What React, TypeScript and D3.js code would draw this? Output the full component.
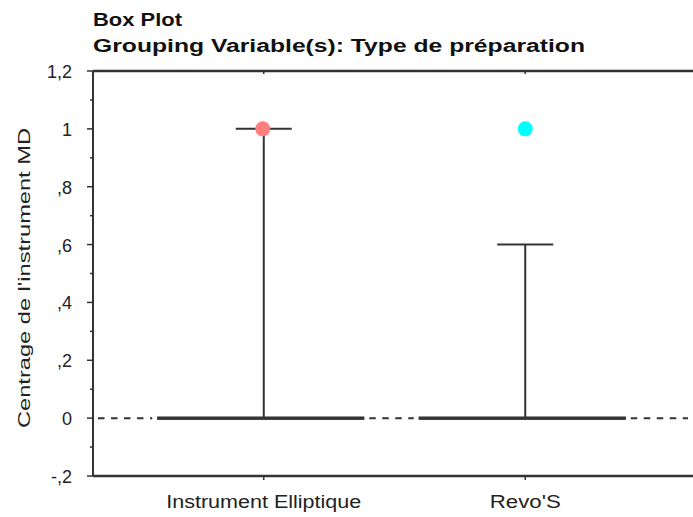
import React from "react";
import * as d3 from "d3";

const groups = ["Instrument Elliptique", "Revo'S"];
const q1Values = [0, 0];
const medianValues = [0, 0];
const q3Values = [0, 0];
const whiskerLow = [0, 0];
const whiskerHigh = [1, 0.6];
const outlierValues = [1, 1];
const outlierColors = ["#ff7f7f", "#00ffff"];
const yTickValues = [-0.2, 0, 0.2, 0.4, 0.6, 0.8, 1, 1.2];
const yTickLabels = ["-,2", "0", ",2", ",4", ",6", ",8", "1", "1,2"];
const yMinorTicks = [-0.1, 0.1, 0.3, 0.5, 0.7, 0.9, 1.1];
const groupLabelWidths = [195, 71];

const W = 693;
const H = 517;
const left = 93;
const top = 71;
const bottom = 476;
const right = 696;
const line = "#333";
const font = "'Liberation Sans', Arial, sans-serif";

export default function App() {
  const y = d3.scaleLinear().domain([-0.2, 1.2]).range([bottom, top]);
  const x = d3.scalePoint<string>().domain(groups).range([left, right]).padding(0.653);
  const boxW = 207;
  const boxShift = -3;
  const capW = 56;
  const y0 = y(0);

  const solids = groups.map((g) => [x(g)! + boxShift - boxW / 2, x(g)! + boxShift + boxW / 2]);
  const gaps: [number, number][] = [];
  let cur = left;
  solids.forEach(([a, b]) => {
    gaps.push([cur, a]);
    cur = b;
  });
  gaps.push([cur, W]);

  return (
    <svg width={W} height={H} style={{ position: "absolute", left: 0, top: 0, background: "#fff" }}>
      <rect x={0} y={0} width={W} height={H} fill="#fff" />
      <text x={93} y={26} fontFamily={font} fontWeight="bold" fontSize={18} fill="#111"
        textLength={89} lengthAdjust="spacingAndGlyphs">
        Box Plot
      </text>
      <text x={93} y={52} fontFamily={font} fontWeight="bold" fontSize={18} fill="#111"
        textLength={492} lengthAdjust="spacingAndGlyphs">
        Grouping Variable(s): Type de préparation
      </text>

      {/* frame */}
      <line x1={left} x2={W} y1={top} y2={top} stroke={line} strokeWidth={2.5} />
      <line x1={left} x2={W} y1={bottom} y2={bottom} stroke={line} strokeWidth={2.5} />
      <line x1={left} x2={left} y1={top} y2={bottom} stroke={line} strokeWidth={2} />

      {/* y ticks */}
      {yTickValues.map((v, i) => (
        <g key={"yt" + i}>
          <line x1={left - 6} x2={left} y1={y(v)} y2={y(v)} stroke={line} strokeWidth={1.5} />
          <text x={72} y={y(v) + 7} textAnchor="end" fontFamily={font} fontSize={18} fill="#222">
            {yTickLabels[i]}
          </text>
        </g>
      ))}
      {yMinorTicks.map((v, i) => (
        <line key={"ym" + i} x1={left - 3} x2={left} y1={y(v)} y2={y(v)} stroke={line} strokeWidth={1.5} />
      ))}

      {/* x ticks */}
      {groups.map((g, i) => (
        <g key={"xt" + g}>
          <line x1={x(g)} x2={x(g)} y1={bottom} y2={bottom + 4} stroke={line} strokeWidth={1.5} />
          <line x1={x(g)} x2={x(g)} y1={top} y2={top + 3} stroke={line} strokeWidth={1.5} />
          <text x={x(g)! - groupLabelWidths[i] / 2} y={508} fontFamily={font} fontSize={18} fill="#222"
            textLength={groupLabelWidths[i]} lengthAdjust="spacingAndGlyphs">
            {g}
          </text>
        </g>
      ))}

      {/* y axis title */}
      <text
        transform={`translate(30,428) rotate(-90)`}
        fontFamily={font}
        fontSize={17}
        fill="#222"
        textLength={300}
        lengthAdjust="spacingAndGlyphs"
      >
        Centrage de l'instrument MD
      </text>

      {/* zero reference dashes */}
      {gaps.map(([a, b], i) => (
        <line key={"gap" + i} x1={a + 5} x2={b - 5} y1={y0} y2={y0} stroke={line} strokeWidth={2} strokeDasharray="6.5,6.5" />
      ))}

      {/* boxes */}
      {groups.map((g, i) => {
        const cx = x(g)!;
        const bt = y(q3Values[i]);
        const bb = y(q1Values[i]);
        return (
          <g key={"box" + g}>
            <line x1={cx} x2={cx} y1={y(whiskerLow[i])} y2={y(whiskerHigh[i])} stroke={line} strokeWidth={2} />
            <line x1={cx - capW / 2} x2={cx + capW / 2} y1={y(whiskerHigh[i])} y2={y(whiskerHigh[i])} stroke={line} strokeWidth={2} />
            <rect x={cx + boxShift - boxW / 2} y={bt - 1.5} width={boxW} height={Math.max(3, bb - bt + 3)} fill={line} />
            <line x1={cx + boxShift - boxW / 2} x2={cx + boxShift + boxW / 2} y1={y(medianValues[i])} y2={y(medianValues[i])} stroke={line} strokeWidth={3} />
            <circle cx={cx - (i === 0 ? 1 : 0)} cy={y(outlierValues[i])} r={7.5} fill={outlierColors[i]} />
          </g>
        );
      })}
    </svg>
  );
}
